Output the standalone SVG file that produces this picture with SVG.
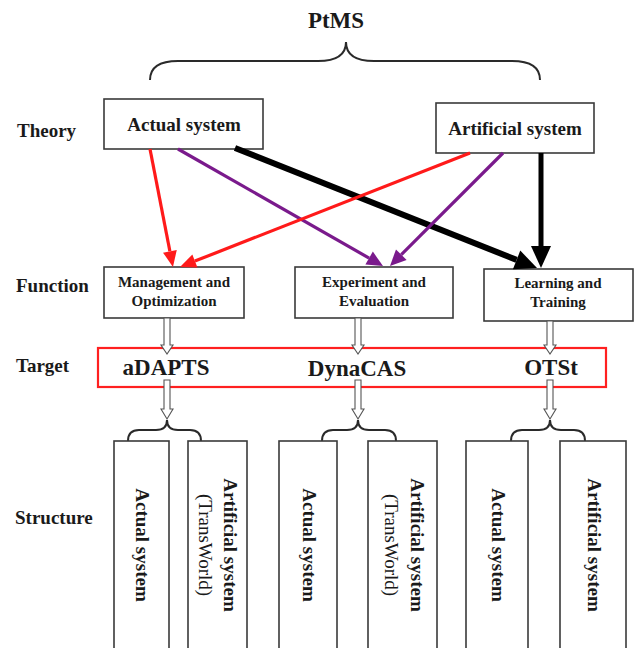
<svg xmlns="http://www.w3.org/2000/svg" width="636" height="648" viewBox="0 0 636 648">
<style>
  .t { font-family: "Liberation Serif", "Times New Roman", serif; font-weight: bold; fill: #1a1a1a; }
  .reg { font-family: "Liberation Serif", "Times New Roman", serif; font-weight: normal; fill: #1a1a1a; }
  .box { fill: #ffffff; stroke: #3a3a3a; stroke-width: 1.6; }
  .brace { fill: none; stroke: #2a2a2a; stroke-width: 2; }
  .hollow { fill: #ffffff; stroke: #555555; stroke-width: 1.1; }
  .red { stroke: #ff1a1a; stroke-width: 3.2; fill: none; }
  .purple { stroke: #7a1a8c; stroke-width: 3.2; fill: none; }
  .black { stroke: #000000; stroke-width: 6; fill: none; }
  .black2 { stroke: #000000; stroke-width: 5; fill: none; }
</style>
<defs>
  <marker id="hRed" markerUnits="userSpaceOnUse" markerWidth="30" markerHeight="30" refX="0" refY="0" orient="auto" overflow="visible">
    <path d="M0,-7 L16,0 L0,7 z" fill="#ff1a1a"/>
  </marker>
  <marker id="hPurple" markerUnits="userSpaceOnUse" markerWidth="30" markerHeight="30" refX="0" refY="0" orient="auto" overflow="visible">
    <path d="M0,-7.5 L16,0 L0,7.5 z" fill="#7a1a8c"/>
  </marker>
  <marker id="hBlack" markerUnits="userSpaceOnUse" markerWidth="30" markerHeight="30" refX="0" refY="0" orient="auto" overflow="visible">
    <path d="M0,-10 L22,0 L0,10 z" fill="#000000"/>
  </marker>
</defs>

<rect width="636" height="648" fill="#ffffff"/>

<!-- Title and brace -->
<g id="title">
  <text class="t" x="336" y="28" font-size="23" text-anchor="middle">PtMS</text>
  <path class="brace" d="M150,80 Q150,61 178,61 L318,61 Q346,61 346,42 Q346,61 374,61 L512,61 Q540,61 540,80"/>
</g>

<!-- Row labels -->
<g id="labels">
  <text class="t" x="17" y="137" font-size="19">Theory</text>
  <text class="t" x="16" y="292" font-size="19">Function</text>
  <text class="t" x="16" y="372" font-size="19">Target</text>
  <text class="t" x="15" y="524" font-size="19">Structure</text>
</g>

<!-- Theory nodes -->
<g id="actual-system">
  <rect class="box" x="104" y="99" width="159" height="50"/>
  <text class="t" x="184" y="131" font-size="19" text-anchor="middle">Actual system</text>
</g>
<g id="artificial-system">
  <rect class="box" x="436" y="103" width="158" height="50"/>
  <text class="t" x="515" y="135" font-size="19" text-anchor="middle">Artificial system</text>
</g>

<!-- Function nodes -->
<g id="management">
  <rect class="box" x="104" y="267" width="140" height="51"/>
  <text class="t" x="174" y="287" font-size="15" text-anchor="middle">Management and</text>
  <text class="t" x="174" y="306" font-size="15" text-anchor="middle">Optimization</text>
</g>
<g id="experiment">
  <rect class="box" x="295" y="267" width="158" height="51"/>
  <text class="t" x="374" y="287" font-size="15" text-anchor="middle">Experiment and</text>
  <text class="t" x="374" y="306" font-size="15" text-anchor="middle">Evaluation</text>
</g>
<g id="learning">
  <rect class="box" x="484" y="269" width="149" height="52"/>
  <text class="t" x="558" y="288" font-size="15" text-anchor="middle">Learning and</text>
  <text class="t" x="558" y="307" font-size="15" text-anchor="middle">Training</text>
</g>

<!-- Target -->
<g id="target">
  <rect x="98" y="348" width="508" height="39" fill="none" stroke="#ff2020" stroke-width="2.2"/>
  <text class="t" x="166" y="375" font-size="23" text-anchor="middle">aDAPTS</text>
  <text class="t" x="357" y="376" font-size="23" text-anchor="middle">DynaCAS</text>
  <text class="t" x="551" y="375" font-size="23" text-anchor="middle">OTSt</text>
</g>

<!-- Connectors -->
<g id="connectors">
  <line class="red" x1="150" y1="149" x2="169.9" y2="251.3" marker-end="url(#hRed)"/>
  <line class="purple" x1="178" y1="149" x2="369.1" y2="258.1" marker-end="url(#hPurple)"/>
  <line class="black" x1="235" y1="148" x2="516.6" y2="259.9" marker-end="url(#hBlack)"/>
  <line class="red" x1="470" y1="153" x2="194.9" y2="261.1" marker-end="url(#hRed)"/>
  <line class="purple" x1="503" y1="153" x2="401.3" y2="254.7" marker-end="url(#hPurple)"/>
  <line class="black2" x1="541" y1="153" x2="541" y2="246" marker-end="url(#hBlack)"/>

  <polygon class="hollow" points="164,318 170,318 170,345 173,345 167,354 161,345 164,345"/>
  <polygon class="hollow" points="355,318 361,318 361,345 364,345 358,354 352,345 355,345"/>
  <polygon class="hollow" points="547,321 553,321 553,345 556,345 550,354 544,345 547,345"/>

  <polygon class="hollow" points="164,380 170,380 170,409 173,409 167,419 161,409 164,409"/>
  <polygon class="hollow" points="355,380 361,380 361,409 364,409 358,419 352,409 355,409"/>
  <polygon class="hollow" points="547,380 553,380 553,409 556,409 550,419 544,409 547,409"/>

  <path class="brace" d="M128,441 Q128,430 139,430 L156,430 Q167,430 167,420 Q167,430 178,430 L190,430 Q201,430 201,441"/>
  <path class="brace" d="M322,441 Q322,430 333,430 L347,430 Q358,430 358,420 Q358,430 369,430 L385,430 Q396,430 396,441"/>
  <path class="brace" d="M511,441 Q511,430 522,430 L539,430 Q550,430 550,420 Q550,430 561,430 L574,430 Q585,430 585,441"/>
</g>

<!-- Structure nodes -->
<g id="s1-actual">
  <rect class="box" x="114" y="441" width="55" height="212"/>
  <text class="t" font-size="19" text-anchor="middle" transform="translate(136,545) rotate(90)">Actual system</text>
</g>
<g id="s1-artificial">
  <rect class="box" x="188" y="441" width="59" height="212"/>
  <text class="t" font-size="19" text-anchor="middle" transform="translate(224,545) rotate(90)">Artificial system</text>
  <text class="reg" font-size="19" text-anchor="middle" transform="translate(199,545) rotate(90)">(TransWorld)</text>
</g>
<g id="s2-actual">
  <rect class="box" x="279" y="441" width="58" height="212"/>
  <text class="t" font-size="19" text-anchor="middle" transform="translate(303,545) rotate(90)">Actual system</text>
</g>
<g id="s2-artificial">
  <rect class="box" x="368" y="441" width="69" height="212"/>
  <text class="t" font-size="19" text-anchor="middle" transform="translate(411,545) rotate(90)">Artificial system</text>
  <text class="reg" font-size="19" text-anchor="middle" transform="translate(385,545) rotate(90)">(TransWorld)</text>
</g>
<g id="s3-actual">
  <rect class="box" x="466" y="441" width="62" height="212"/>
  <text class="t" font-size="19" text-anchor="middle" transform="translate(492,545) rotate(90)">Actual system</text>
</g>
<g id="s3-artificial">
  <rect class="box" x="560" y="441" width="66" height="212"/>
  <text class="t" font-size="19" text-anchor="middle" transform="translate(588,545) rotate(90)">Artificial system</text>
</g>
</svg>
